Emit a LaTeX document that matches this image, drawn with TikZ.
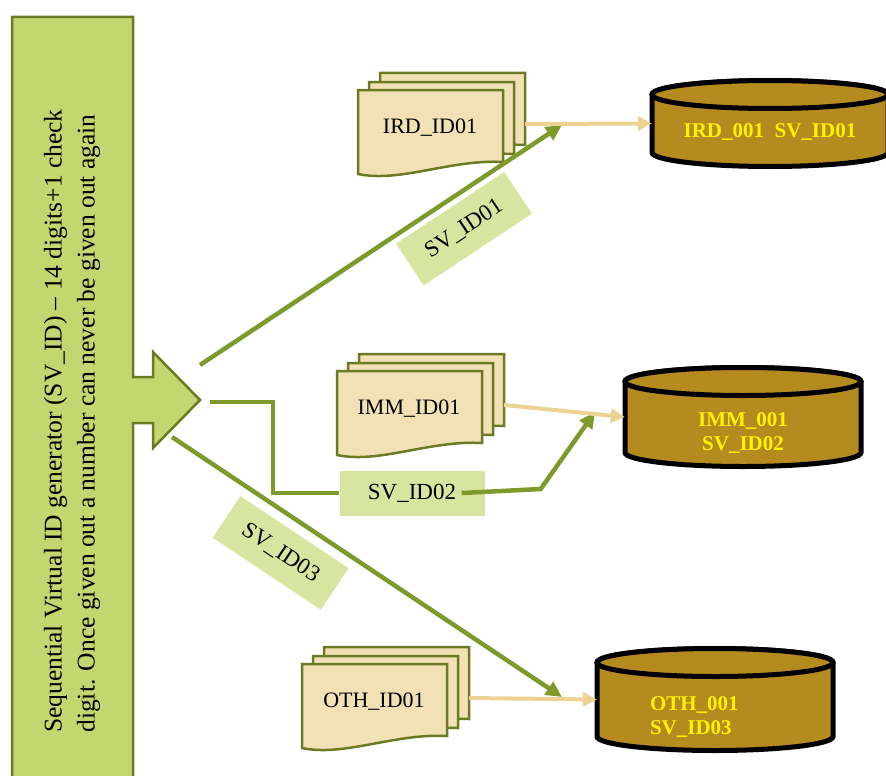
\documentclass[tikz,border=0pt]{standalone}
\usepackage{fontspec}
\setmainfont{Liberation Serif}
\usetikzlibrary{arrows.meta,calc}

\definecolor{genfill}{HTML}{C3D66F}
\definecolor{genedge}{HTML}{6B7B23}
\definecolor{flowgreen}{HTML}{7D9A2B}
\definecolor{tagfill}{HTML}{D7E5A0}
\definecolor{docfill}{HTML}{F2E1B5}
\definecolor{feedtan}{HTML}{EDD393}
\definecolor{dbfill}{HTML}{B58B20}

% three stacked pages, #2 = top left of the front page
\newcommand\docstack[3]{%
  \foreach \dx/\dy in {22/-17,11/-8,0/0}
    \filldraw[docpage, shift={($(#2)+(\dx,\dy)$)}] (0,0) -- (145,0) -- (145,72)
      .. controls +(-52,-3) and +(42,9) .. (0,84) -- cycle;
  \node[doclabel] (#1) at ($(#2)+(72,38)$) {#3};
  \coordinate (#1-out) at ($(#2)+(167,34)$);
}
% drum outline, #1 = centre, #2 = body height
\newcommand\dbdrum[2]{%
  \filldraw[dbedge] ($(#1)+(-118,-#2/2)$) -- ++(0,#2)
    arc[start angle=180, end angle=360, x radius=118pt, y radius=14pt]
    -- ++(0,-#2) arc[start angle=0, end angle=180, x radius=118pt, y radius=14pt] -- cycle;
  \draw[dbedge] ($(#1)+(0,-#2/2)$) ellipse [x radius=118pt, y radius=14pt];
}

\begin{document}
\begin{tikzpicture}[x=1pt,y=-1pt,
    gen/.style={fill=genfill, draw=genedge, line width=2.5pt},
    gentext/.style={rotate=90, align=left, inner sep=0pt, font=\fontsize{25.5}{33}\selectfont},
    docpage/.style={fill=docfill, draw=genedge, line width=2.5pt},
    doclabel/.style={inner sep=0pt, font=\fontsize{22}{26}\selectfont},
    dbedge/.style={fill=dbfill, draw=black, line width=5pt},
    dbtext/.style={minimum width=236pt, inner sep=0pt, text=yellow, text depth=0pt,
      font=\fontsize{21}{24}\selectfont\bfseries},
    idtag/.style={fill=tagfill, inner sep=0pt, minimum width=130pt, minimum height=50pt,
      font=\fontsize{23}{26}\selectfont},
    idline/.style={draw=flowgreen, line width=4.5pt},
    idflow/.style={idline, -{Triangle[length=16pt,width=15pt]}},
    feed/.style={draw=feedtan, line width=4pt, -{Triangle[length=14pt,width=14pt]}}]
    \useasboundingbox (0,0) rectangle (886,776);

    % generator
    \filldraw[gen] (12,17) -- (133,17) -- (133,377) -- (153,377) -- (153,352) -- (200,400)
      -- (153,448) -- (153,423) -- (133,423) -- (133,800) -- (12,800) -- cycle;
    \node[gentext] (gen) at (72,421) {Sequential Virtual ID generator (SV\_ID) -- 14 digits+1 check\\digit. Once given out a number can never be given out again};

    \coordinate (out1) at (200,365);
    \coordinate (out2) at (210,402);
    \coordinate (out3) at (172,437);
    \coordinate (tip1) at (562,125);
    \coordinate (tip2) at (595,412);
    \coordinate (tip3) at (562,697);

    % source documents
    \docstack{irddoc}{358,90}{IRD\_ID01}
    \docstack{immdoc}{337,371}{IMM\_ID01}
    \docstack{othdoc}{302,664}{OTH\_ID01}

    % stores
    \dbdrum{770,123.5}{58}
    \node[dbtext, minimum height=58pt, text height=27pt] (irddb) at (770,123.5) {IRD\_001~~SV\_ID01};
    \dbdrum{743,417}{71}
    \node[dbtext, minimum height=71pt, text height=66pt, align=center] (immdb) at (743,417) {IMM\_001\\SV\_ID02};
    \dbdrum{715,699.5}{74}
    \node[dbtext, minimum height=74pt, text height=21pt, align=left, text width=130pt] (othdb) at (715,699.5) {OTH\_001\\SV\_ID03};

    % ids handed out
    \node[idtag, minimum width=145pt, minimum height=45pt] (sv2) at (412,493) {SV\_ID02};
    \draw[idflow] (out1) -- node[idtag, sloped, pos=0.68, below=5pt] (sv1) {SV\_ID01} (tip1);
    \draw[idline] (out2) -- ++(63,0) |- (sv2.west);
    \draw[idflow] ([xshift=-23pt]sv2.east) -- ++(79,-4) -- (tip2);
    \draw[idflow] (out3) -- node[idtag, sloped, pos=0.33, below=9pt] (sv3) {SV\_ID03} (tip3);

    \draw[feed] (irddoc-out) -- (irddb.west);
    \draw[feed] (immdoc-out) -- (immdb.west);
    \draw[feed] (othdoc-out) -- (othdb.west);
\end{tikzpicture}
\end{document}
